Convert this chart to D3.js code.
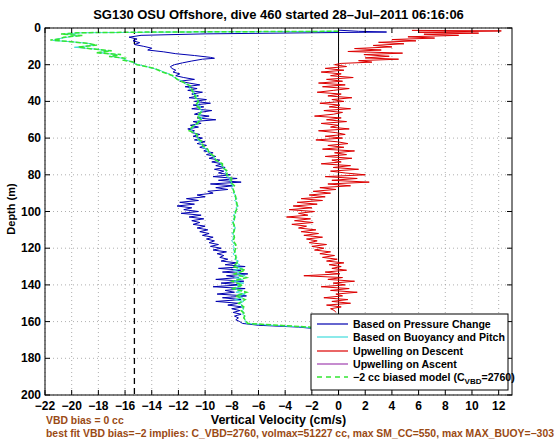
<!DOCTYPE html>
<html><head><meta charset="utf-8">
<script src="https://cdn.jsdelivr.net/npm/d3@7"></script>
<style>body{margin:0;background:#fff}svg{display:block}text{font-family:"Liberation Sans",Arial,sans-serif}</style>
</head><body><svg id="c" width="560" height="442"></svg>
<script>
// ---- tick labels / categories ----
const xTicks = [-22,-20,-18,-16,-14,-12,-10,-8,-6,-4,-2,0,2,4,6,8,10,12];
const yTicks = [0,20,40,60,80,100,120,140,160,180,200];
const titleText = "SG130 OSU Offshore, dive 460 started 28\u2013Jul\u20132011 06:16:06";
const xLabel = "Vertical Velocity (cm/s)";
const yLabel = "Depth (m)";
const note1 = "VBD bias = 0 cc";
const note2 = "best fit VBD bias=\u22122 implies: C_VBD=2760, volmax=51227 cc, max SM_CC=550, max MAX_BUOY=\u2212303";
const biasLineX = -15.3;

// ---- Based on Pressure Change (blue) ----
const bluTopDepth = [1.2,1.8,2.2,2.6,3.2,4,5,6,7,8,9,10,11,12,13,14,15,16,16.5];
const bluTopVal   = [0.0,1.5,3.6,-2,-10,-14.8,-15.7,-15.1,-15.4,-14.9,-15.3,-14.6,-14.0,-14.3,-13.1,-12.2,-10.8,-9.6,-9.3];
const bluVal = [ // depths 17..165 every 1 m
-10.2,-11.0,-11.7,-12.3,-12.6,-12.5,-12.2,-12.4,-11.9,-12.2,-11.6,-10.8,-11.9,-11.2,-10.4,-11.5,-10.6,-11.3,-10.2,-11.0,
-10.5,-11.2,-9.9,-10.8,-9.6,-10.9,-10.1,-11.0,-9.5,-10.4,-10.8,-9.7,-10.6,-9.2,-10.9,-10.3,-11.1,-10.5,-11.3,-10.8,
-11.0,-10.4,-10.9,-10.2,-10.8,-10.0,-10.6,-9.9,-10.4,-9.8,-10.1,-9.4,-9.9,-9.2,-9.7,-8.9,-9.5,-8.7,-9.2,-8.5,
-9.3,-8.6,-9.0,-8.1,-9.4,-7.6,-9.0,-7.3,-9.6,-7.9,-9.2,-8.3,-9.8,-9.4,-10.6,-10.0,-11.4,-10.5,-11.9,-10.8,
-12.1,-11.0,-11.6,-10.5,-11.8,-10.3,-11.2,-10.1,-11.0,-10.4,-10.9,-10.0,-10.6,-9.8,-10.4,-9.7,-10.2,-9.4,-9.9,-9.3,
-9.7,-9.0,-9.6,-8.8,-9.4,-8.4,-9.1,-8.6,-8.9,-8.3,-8.8,-7.6,-8.5,-7.0,-9.0,-7.3,-8.7,-6.8,-8.4,-7.5,
-9.2,-7.1,-8.8,-7.4,-9.4,-7.0,-8.5,-7.8,-9.1,-6.9,-8.7,-7.3,-9.2,-7.5,-8.3,-7.2,-8.0,-7.4,-7.9,-7.3,
-7.8,-7.5,-7.7,-7.4,-7.2,-6.0,-3.0,-1.5,-1.2];

// ---- Based on Buoyancy and Pitch (cyan) ----
const cyaTopDepth = [1.8,2.2,2.6,3.2,4,5,6,6.8,7.5,8.5,9.5,10.5,11.5,12.5,13.5,14.5,15.5,16.5,17.5,18.5,19.5];
const cyaTopVal   = [0.0,-12,-19.2,-20.4,-19.6,-20.3,-21.1,-21.4,-20.0,-18.6,-18.4,-19.8,-18.2,-17.3,-17.9,-16.6,-17.0,-16.2,-15.9,-15.5,-15.2];
const cyaVal = [ // depths 20..164 every 1 m
-15.0,-14.4,-13.9,-13.4,-13.1,-12.7,-12.5,-12.3,-12.0,-11.7,-11.6,-11.3,-11.1,-11.2,-10.9,-10.8,-10.9,-10.6,-10.8,-10.5,
-10.6,-10.4,-10.6,-10.3,-10.5,-10.2,-10.4,-10.3,-10.5,-10.2,-10.4,-10.6,-10.5,-10.8,-10.9,-11.0,-11.1,-10.8,-10.7,-10.6,
-10.5,-10.6,-10.3,-10.4,-10.1,-10.2,-9.9,-9.9,-9.6,-9.6,-9.4,-9.3,-9.1,-9.0,-8.8,-8.8,-8.6,-8.6,-8.4,-8.5,
-8.3,-8.4,-8.1,-8.2,-8.0,-8.1,-7.9,-8.0,-7.9,-7.8,-7.9,-7.7,-7.8,-7.6,-7.8,-7.6,-7.7,-7.5,-7.7,-7.6,
-7.8,-7.7,-7.9,-7.7,-7.9,-7.8,-8.0,-7.8,-7.9,-7.7,-7.9,-7.8,-8.0,-7.8,-7.9,-7.9,-8.0,-7.9,-7.8,-7.9,
-7.8,-7.9,-7.7,-7.9,-7.8,-7.6,-7.8,-7.5,-7.7,-7.4,-7.8,-7.2,-7.9,-7.3,-7.6,-7.0,-7.8,-7.2,-7.9,-7.1,
-7.6,-7.3,-8.0,-7.2,-7.7,-7.0,-7.5,-7.2,-7.8,-7.1,-7.4,-7.2,-7.3,-7.1,-7.2,-7.1,-7.2,-7.0,-7.1,-7.0,
-7.0,-6.9,-5.0,-2.5,-1.6];

// ---- Upwelling on Descent (red) ----
const redTopDepth = [1.3,1.6,2.3,2.8,3.4,4,4.8,5.5,6.3,7,7.8,8.6,9.5,10.3,11.2,12,12.8,13.7,14.5,15.4,16.3,17,17.8,18.6,19.3];
const redTopVal   = [5.5,12.2,6.0,10.5,6.4,9.0,5.2,7.2,4.0,5.8,3.0,4.9,2.6,4.0,1.2,3.2,0.7,4.8,1.9,3.8,2.0,4.5,1.5,2.5,0.2];
const redVal = [ // depths 20..155 every 1 m
-0.3,0.6,-1.0,0.4,-1.3,0.2,-0.6,1.1,-0.9,0.3,-1.5,0.5,-1.2,0.8,-0.4,-1.6,0.2,-0.8,1.0,-0.5,
0.4,-1.4,0.1,-0.7,0.9,-1.1,0.3,-0.4,-1.8,0.2,-0.9,0.6,-1.3,0.0,-0.6,0.8,-1.5,-0.2,0.5,-1.0,
0.3,-1.7,-0.1,0.7,-0.8,0.4,-1.2,1.2,-0.3,0.6,-1.0,1.0,-0.5,0.2,-1.3,0.9,-0.4,1.5,-0.6,0.5,
2.0,-1.0,1.4,-0.5,2.3,-0.8,0.9,-1.4,-0.2,-1.9,-0.6,-2.2,-1.0,-2.8,-1.2,-3.1,-1.6,-3.4,-2.0,-3.7,
-1.8,-3.0,-2.3,-3.9,-2.1,-3.3,-1.9,-3.5,-2.4,-3.0,-1.7,-2.8,-1.5,-2.6,-1.2,-2.4,-1.6,-2.2,-0.9,-2.0,
-1.1,-1.8,-0.6,-1.4,-0.3,-1.2,-0.1,-0.9,0.4,-0.7,0.2,-0.5,0.6,-1.0,0.1,-2.6,0.3,-0.8,1.2,-0.4,
0.5,-1.3,0.8,-0.6,1.4,-0.2,0.3,-1.1,0.7,-0.5,0.9,-0.9,0.2,-0.6,-0.3,-0.2];

// ---- -2 cc biased model (green dashed) ----
const grnTopDepth = [1.8,2.2,2.6,3.3,4.1,5,6,6.6,7.3,8.3,9.3,10.4,11.4,12.4,13.5,14.5,15.5,16.5,17.5,18.5,19.5];
const grnTopVal   = [0.0,-14,-19.6,-20.8,-19.2,-20.6,-20.9,-21.6,-20.3,-18.9,-18.1,-19.5,-18.5,-17.0,-18.2,-16.3,-17.2,-16.0,-16.2,-15.4,-15.3];
const grnVal = [ // depths 20..160 every 2 m
-15.1,-13.8,-13.2,-12.4,-12.1,-11.5,-11.0,-11.0,-10.8,-10.7,-10.5,-10.7,-10.4,-10.3,-10.6,-10.3,-10.6,-11.0,-11.2,-10.6,
-10.6,-10.2,-10.2,-9.8,-9.7,-9.3,-9.2,-8.7,-8.7,-8.3,-8.4,-8.0,-8.1,-7.8,-7.9,-7.8,-7.7,-7.7,-7.6,-7.6,
-7.7,-7.8,-7.8,-7.9,-7.8,-7.8,-7.9,-7.8,-7.9,-7.7,-7.7,-7.8,-7.7,-7.7,-7.6,-7.9,-7.0,-7.8,-6.9,-8.0,
-7.2,-7.9,-6.9,-7.7,-7.0,-7.5,-7.1,-7.3,-7.0,-7.1,-6.9];
const grnEndDepth = [161,162,163,164];
const grnEndVal = [-6.8,-4.5,-2.2,-1.4];

const legendLabels = ["Based on Pressure Change","Based on Buoyancy and Pitch","Upwelling on Descent","Upwelling on Ascent"];

// ---- build point lists ----
function pts(ds, vs){ return ds.map((d,i)=>({d:d, v:vs[i]})); }
const blue = pts(bluTopDepth.concat(d3.range(17,166)), bluTopVal.concat(bluVal));
const cyan = pts(cyaTopDepth.concat(d3.range(20,165)), cyaTopVal.concat(cyaVal));
const red  = pts(redTopDepth.concat(d3.range(20,156)), redTopVal.concat(redVal));
const green= pts(grnTopDepth.concat(d3.range(20,161,2), grnEndDepth), grnTopVal.concat(grnVal, grnEndVal));

const svg = d3.select("#c");
const L=45,R=512,T=28,B=395;
const x = d3.scaleLinear().domain([-22,13]).range([L,R]);
const y = d3.scaleLinear().domain([0,200]).range([T,B]);

svg.append("defs").append("clipPath").attr("id","clip").append("rect")
  .attr("x",L).attr("y",T).attr("width",R-L).attr("height",B-T);

// grid
const g = svg.append("g");
g.selectAll(".gx").data(xTicks).enter().append("line")
  .attr("x1",d=>x(d)).attr("x2",d=>x(d)).attr("y1",T).attr("y2",B)
  .attr("stroke","#9a9a9a").attr("stroke-width",0.8).attr("stroke-dasharray","1,3");
g.selectAll(".gy").data(yTicks).enter().append("line")
  .attr("y1",d=>y(d)).attr("y2",d=>y(d)).attr("x1",L).attr("x2",R)
  .attr("stroke","#9a9a9a").attr("stroke-width",0.8).attr("stroke-dasharray","1,3");

const line = d3.line().x(p=>x(p.v)).y(p=>y(p.d));
const plot = svg.append("g").attr("clip-path","url(#clip)");
// reference lines
plot.append("line").attr("x1",x(0)).attr("x2",x(0)).attr("y1",T).attr("y2",B).attr("stroke","#000").attr("stroke-width",1);
plot.append("line").attr("x1",x(biasLineX)).attr("x2",x(biasLineX)).attr("y1",T).attr("y2",B)
  .attr("stroke","#000").attr("stroke-width",1.3).attr("stroke-dasharray","6,4");

plot.append("path").datum(red).attr("d",line).attr("fill","none").attr("stroke","#dd0000").attr("stroke-width",1);
plot.append("path").datum(blue).attr("d",line).attr("fill","none").attr("stroke","#0000b0").attr("stroke-width",1);
plot.append("path").datum(cyan).attr("d",line).attr("fill","none").attr("stroke","#40dcdc").attr("stroke-width",1);
plot.append("path").datum(green).attr("d",line).attr("fill","none").attr("stroke","#33e633").attr("stroke-width",1.5).attr("stroke-dasharray","5,2");

// axes frame and ticks
const ax = svg.append("g");
ax.append("rect").attr("x",L).attr("y",T).attr("width",R-L).attr("height",B-T).attr("fill","none").attr("stroke","#000").attr("stroke-width",1);
const tk=5;
ax.selectAll(".tb").data(xTicks).enter().append("line").attr("x1",d=>x(d)).attr("x2",d=>x(d)).attr("y1",B).attr("y2",B-tk).attr("stroke","#000");
ax.selectAll(".tt").data(xTicks).enter().append("line").attr("x1",d=>x(d)).attr("x2",d=>x(d)).attr("y1",T).attr("y2",T+tk).attr("stroke","#000");
ax.selectAll(".tl").data(yTicks).enter().append("line").attr("y1",d=>y(d)).attr("y2",d=>y(d)).attr("x1",L).attr("x2",L+tk).attr("stroke","#000");
ax.selectAll(".tr").data(yTicks).enter().append("line").attr("y1",d=>y(d)).attr("y2",d=>y(d)).attr("x1",R).attr("x2",R-tk).attr("stroke","#000");

const fmt = d=> d<0 ? "\u2212"+Math.abs(d) : String(d);
ax.selectAll(".xl").data(xTicks).enter().append("text").attr("x",d=>x(d)).attr("y",B+15)
  .attr("text-anchor","middle").attr("font-size",12).attr("font-weight","bold").text(fmt);
ax.selectAll(".yl").data(yTicks).enter().append("text").attr("x",L-4).attr("y",d=>y(d)+4)
  .attr("text-anchor","end").attr("font-size",12).attr("font-weight","bold").text(d=>d);

svg.append("text").attr("x",(L+R)/2).attr("y",19).attr("text-anchor","middle").attr("font-size",13).attr("font-weight","bold").text(titleText);
svg.append("text").attr("x",(L+R)/2).attr("y",424).attr("text-anchor","middle").attr("font-size",12.5).attr("font-weight","bold").text(xLabel);
svg.append("text").attr("transform","translate(15,209) rotate(-90)").attr("text-anchor","middle").attr("font-size",11).attr("font-weight","bold").text(yLabel);

svg.append("text").attr("x",46).attr("y",424).attr("font-size",10.4).attr("font-weight","bold").attr("fill","#9a4a14").text(note1);
svg.append("text").attr("x",46).attr("y",437).attr("font-size",10.4).attr("font-weight","bold").attr("fill","#9a4a14").text(note2);

// legend
const lg = svg.append("g");
lg.append("rect").attr("x",311).attr("y",314).attr("width",197).attr("height",76).attr("fill","#fff").attr("stroke","#000").attr("stroke-width",1);
const lgCol = ["#0000b0","#40dcdc","#dd0000","#a040b0"];
const rows=[324,337,351,364,377];
legendLabels.forEach((t,i)=>{
  lg.append("line").attr("x1",317).attr("x2",348).attr("y1",rows[i]).attr("y2",rows[i]).attr("stroke",lgCol[i]).attr("stroke-width",1.2);
  lg.append("text").attr("x",353).attr("y",rows[i]+4).attr("font-size",10.6).attr("font-weight","bold").text(t);
});
lg.append("line").attr("x1",317).attr("x2",348).attr("y1",rows[4]).attr("y2",rows[4]).attr("stroke","#33e633").attr("stroke-width",1.5).attr("stroke-dasharray","5,4");
const lt = lg.append("text").attr("x",353).attr("y",rows[4]+4).attr("font-size",10.6).attr("font-weight","bold");
lt.append("tspan").text("\u22122 cc biased model (C");
lt.append("tspan").attr("font-size",8).attr("dy",3).text("VBD");
lt.append("tspan").attr("dy",-3).text("=2760)");
</script></body></html>
